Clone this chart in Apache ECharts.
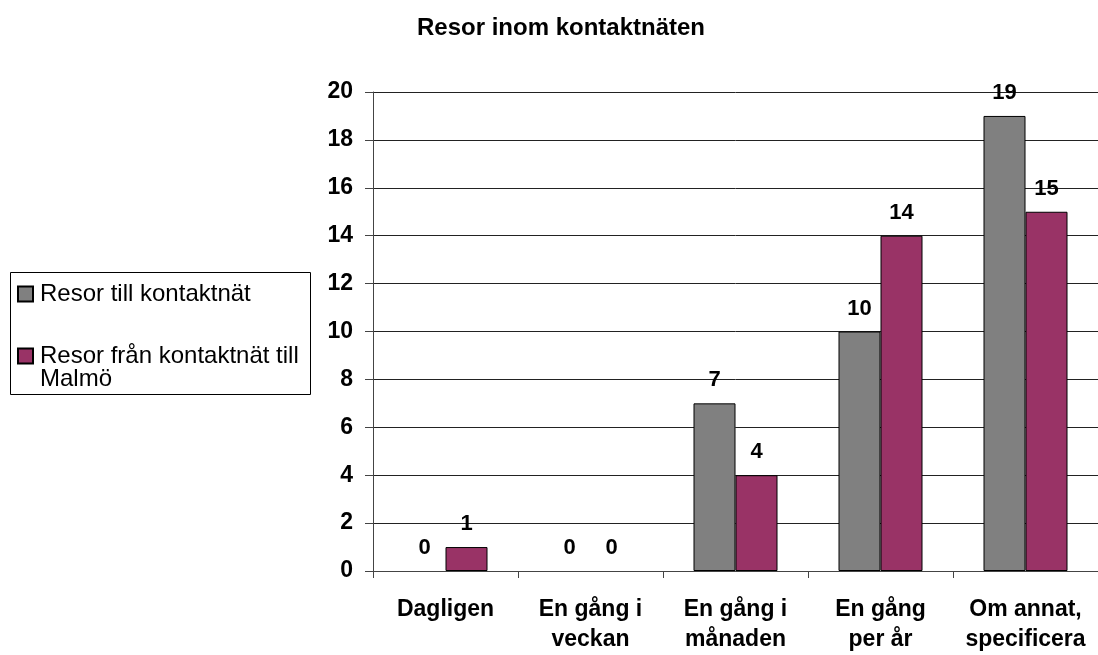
<!DOCTYPE html>
<html lang="sv">
<head>
<meta charset="UTF-8">
<title>Resor inom kontaktnäten</title>
<style>
  html, body { margin: 0; padding: 0; background: #fff; overflow: hidden; }
  #chart { width: 1098px; height: 655px; }
</style>
</head>
<body>
<div id="chart"></div>
<script src="https://cdn.jsdelivr.net/npm/echarts@6/dist/echarts.min.js"></script>
<script>
var categories = ['Dagligen', 'En gång i\nveckan', 'En gång i\nmånaden', 'En gång\nper år', 'Om annat,\nspecificera'];
var seriesNames = ['Resor till kontaktnät', 'Resor från kontaktnät till Malmö'];
var tillKontaktnat = [0, 0, 7, 10, 19];
var franKontaktnat = [1, 0, 4, 14, 15];

var chart = echarts.init(document.getElementById('chart'));
var font = 'Liberation Sans, Arial, sans-serif';

var labelStyle = {
  show: true,
  position: 'top',
  distance: 12,
  color: '#000',
  fontFamily: font,
  fontWeight: 'bold',
  fontSize: 22
};

// zero bars have no visible outline in the original
function barData(values) {
  return values.map(function (v) {
    return v === 0 ? { value: v, itemStyle: { borderWidth: 0 } } : v;
  });
}

var legendText = { fontFamily: font, fontSize: 24, color: '#000', lineHeight: 23, padding: [0, 0, 0, 2] };

var option = {
  animation: false,
  title: {
    text: 'Resor inom kontaktnäten',
    left: 561,
    top: 16,
    padding: 0,
    textAlign: 'center',
    textStyle: { fontFamily: font, fontWeight: 'bold', fontSize: 24, color: '#000' }
  },
  graphic: [{
    type: 'rect',
    left: 10,
    top: 272,
    shape: { width: 300, height: 122 },
    style: { fill: '#fff', stroke: '#000', lineWidth: 1 },
    z: 0
  }],
  legend: [{
    left: 17,
    top: 282,
    padding: 0,
    itemWidth: 15,
    itemHeight: 15,
    icon: 'rect',
    data: [seriesNames[0]],
    textStyle: legendText,
    z: 5
  }, {
    left: 17,
    top: 321,
    padding: 0,
    itemWidth: 15,
    itemHeight: 15,
    icon: 'rect',
    data: [seriesNames[1]],
    // empty first line keeps the first text line level with the marker
    formatter: function () { return '\nResor från kontaktnät till\nMalmö'; },
    textStyle: legendText,
    z: 5
  }],
  grid: { left: 373, top: 92, width: 728, height: 485, containLabel: false },
  xAxis: {
    type: 'category',
    data: categories,
    axisLine: { lineStyle: { color: '#444', width: 1 } },
    axisTick: { show: true, length: 7, lineStyle: { color: '#444' } },
    axisLabel: {
      interval: 0,
      margin: 24,
      color: '#000',
      fontFamily: font,
      fontWeight: 'bold',
      fontSize: 23,
      lineHeight: 30
    }
  },
  yAxis: {
    type: 'value',
    min: 0,
    max: 20,
    interval: 2,
    axisLine: { show: true, lineStyle: { color: '#444', width: 1 } },
    axisTick: { show: true, length: 8, lineStyle: { color: '#444' } },
    splitLine: { show: true, lineStyle: { color: '#222', width: 1 } },
    axisLabel: {
      margin: 20,
      color: '#000',
      fontFamily: font,
      fontWeight: 'bold',
      fontSize: 23
    }
  },
  series: [{
    name: seriesNames[0],
    type: 'bar',
    data: barData(tillKontaktnat),
    barWidth: 42,
    barGap: '0%',
    itemStyle: { color: '#808080', borderColor: '#000', borderWidth: 1 },
    label: labelStyle
  }, {
    name: seriesNames[1],
    type: 'bar',
    data: barData(franKontaktnat),
    barWidth: 42,
    barGap: '0%',
    itemStyle: { color: '#993366', borderColor: '#000', borderWidth: 1 },
    label: labelStyle
  }]
};

chart.setOption(option);
</script>
</body>
</html>
